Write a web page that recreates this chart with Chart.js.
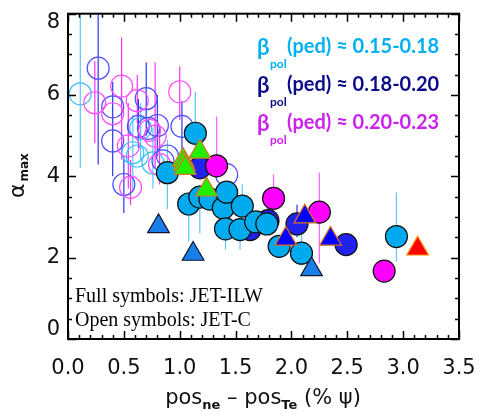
<!DOCTYPE html>
<html lang="en">

<head>
  <meta charset="UTF-8">
  <script src="https://cdn.jsdelivr.net/npm/chart.js@4.4.0/dist/chart.umd.min.js"></script>
  <title>alpha max vs pedestal shift</title>
  <style>
    body { margin: 0; background: #fff; }
  </style>
</head>

<body>
  <canvas id="myChart" width="480" height="417"></canvas>
  <script>
    // axis ticks
    const xTicks = [0, 0.5, 1, 1.5, 2, 2.5, 3, 3.5]
    const xTickLabels = ['0.0', '0.5', '1.0', '1.5', '2.0', '2.5', '3.0', '3.5']
    const yTicks = [0, 2, 4, 6, 8]
    const yTickLabels = ['0', '2', '4', '6', '8']
    const legendRanges = ['0.15-0.18', '0.18-0.20', '0.20-0.23']

    // JET-C (open circles), lo/hi = error bar ends (null = no bar)
    const openCyanX = [0.11, 0.58, 0.65, 0.76, 0.62]
    const openCyanY = [6.03, 4.58, 5.18, 4.33, 4.50]
    const openCyanLo = [4.21, 3.68, 4.40, 3.70, null]
    const openCyanHi = [8.30, 5.50, 5.80, 5.20, null]

    const openBlueX = [0.27, 0.40, 0.40, 0.70, 0.63, 0.72, 0.80, 0.50, 1.02, 0.89, 1.42, 0.85]
    const openBlueY = [6.66, 5.71, 4.87, 5.91, 5.23, 5.18, 5.25, 3.80, 5.23, 4.50, 4.04, 4.38]
    const openBlueLo = [4.29, 4.16, 4.00, 5.00, 4.70, null, 4.50, 3.10, 4.50, null, null, null]
    const openBlueHi = [8.30, 6.32, 5.50, 6.80, 5.90, null, 6.00, 4.50, 5.86, null, null, null]

    const openMagX = [0.24, 0.48, 0.40, 0.62, 0.54, 0.78, 0.56, 0.82, 1.00, 0.73]
    const openMagY = [5.81, 6.22, 5.54, 5.86, 4.75, 4.99, 3.73, 4.29, 6.08, 5.13]
    const openMagLo = [4.82, 4.41, null, 5.30, 3.70, 4.20, 3.30, 3.80, 5.38, null]
    const openMagHi = [6.83, 7.41, null, 6.50, 5.80, 6.80, 4.40, 5.20, 6.71, null]

    // JET-ILW (full circles)
    const fullCyanX = [1.14, 0.89, 1.08, 1.18, 1.27, 1.39, 1.42, 1.41, 1.56, 1.54, 1.68, 1.78, 1.89, 2.09, 2.94]
    const fullCyanY = [5.06, 4.09, 3.32, 3.49, 3.44, 3.22, 3.61, 2.71, 3.27, 2.69, 2.88, 2.83, 2.28, 2.11, 2.52]
    const fullCyanLo = [4.20, 3.20, 2.40, 2.60, null, 2.70, null, 2.20, 2.80, 2.20, null, null, null, 1.80, 1.90]
    const fullCyanHi = [6.08, 4.90, 3.60, 3.80, null, 3.60, null, 3.00, 3.80, 3.00, null, null, null, 2.60, 3.60]

    const fullBlueX = [1.18, 1.79, 1.63, 2.05, 2.49]
    const fullBlueY = [4.21, 2.91, 2.69, 2.83, 2.32]
    const fullBlueLo = [null, 2.60, null, 2.50, null]
    const fullBlueHi = [null, 3.30, null, 3.30, null]

    const fullMagX = [1.33, 1.84, 2.25, 2.83]
    const fullMagY = [4.26, 3.46, 3.12, 1.67]
    const fullMagLo = [3.90, 3.00, 1.86, null]
    const fullMagHi = [5.47, 4.05, 4.09, null]

    // triangles
    const triGreenX = [1.03, 1.04, 1.05, 1.18, 1.24]
    const triGreenY = [4.40, 4.30, 4.20, 4.60, 3.67]
    const triMidX = [0.81, 1.12, 2.18]
    const triMidY = [2.77, 2.09, 1.71]
    const triBlueX = [1.95, 2.12, 2.35]
    const triBlueY = [2.46, 3.01, 2.46]
    const triRedX = [3.13]
    const triRedY = [2.22]

    function pts(xs, ys) {
      return xs.map((x, i) => ({ x: x, y: ys[i] }))
    }

    // error bars as broken line segments
    function bars(xs, lo, hi) {
      const out = []
      xs.forEach((x, i) => {
        if (lo[i] === null) return
        out.push({ x: x, y: lo[i] }, { x: x, y: hi[i] }, { x: x, y: null })
      })
      return out
    }

    function barSet(data, color) {
      return {
        type: 'line', data: data, showLine: true, spanGaps: false,
        borderColor: color, borderWidth: 1.2, pointRadius: 0, order: 20
      }
    }

    function circleSet(data, fill, border, order) {
      return {
        data: data, pointStyle: 'circle', pointRadius: 11, pointHoverRadius: 11,
        backgroundColor: fill, borderColor: border, pointBorderWidth: 1.2, order: order
      }
    }

    function triSet(data, fill, border) {
      return {
        data: data, pointStyle: 'triangle', pointRadius: 12.5, pointHoverRadius: 12.5,
        backgroundColor: fill, borderColor: border, pointBorderWidth: 1.2, order: 1
      }
    }

    const frame = {
      id: 'frame',
      afterDraw: (chart) => {
        const ctx = chart.ctx
        const a = chart.chartArea
        const sx = chart.scales.x
        const sy = chart.scales.y
        ctx.save()
        ctx.strokeStyle = '#000'
        ctx.lineWidth = 1.5
        ctx.beginPath()
        // x ticks, minor every 0.1
        for (let i = 0; i <= 35; i++) {
          const px = Math.round(sx.getPixelForValue(i / 10)) + 0.5
          const len = i % 5 === 0 ? 8 : 4
          ctx.moveTo(px, a.bottom); ctx.lineTo(px, a.bottom - len)
          ctx.moveTo(px, a.top); ctx.lineTo(px, a.top + len)
        }
        // y ticks, minor every 0.5
        for (let i = 0; i <= 16; i++) {
          const py = Math.round(sy.getPixelForValue(i / 2)) + 0.5
          const len = i % 4 === 0 ? 8 : 4
          ctx.moveTo(a.left, py); ctx.lineTo(a.left + len, py)
          ctx.moveTo(a.right, py); ctx.lineTo(a.right - len, py)
        }
        ctx.stroke()
        ctx.lineWidth = 2
        ctx.strokeRect(a.left, a.top, a.right - a.left, a.bottom - a.top)

        // tick labels
        ctx.fillStyle = '#111'
        ctx.font = '21px "DejaVu Sans"'
        ctx.textAlign = 'center'
        ctx.textBaseline = 'middle'
        xTicks.forEach((v, i) => {
          ctx.fillText(xTickLabels[i], sx.getPixelForValue(v), a.bottom + 30)
        })
        ctx.textAlign = 'right'
        yTicks.forEach((v, i) => {
          let py = sy.getPixelForValue(v)
          py = Math.min(Math.max(py, a.top + 9), a.bottom - 9)
          ctx.fillText(yTickLabels[i], a.left - 8, py)
        })

        // x title: pos_ne - pos_Te (% psi)
        const big = '21px "DejaVu Sans"'
        const small = 'bold 13px "DejaVu Sans"'
        const parts = [['pos', big, 0], ['ne', small, 5], [' \u2013 ', big, 0], ['pos', big, 0], ['Te', small, 5], [' (% \u03c8)', big, 0]]
        let w = 0
        parts.forEach(p => { ctx.font = p[1]; w += ctx.measureText(p[0]).width })
        let cx = 263 - w / 2
        ctx.textAlign = 'left'
        ctx.textBaseline = 'alphabetic'
        parts.forEach(p => {
          ctx.font = p[1]
          ctx.fillText(p[0], cx, 404 + p[2])
          cx += ctx.measureText(p[0]).width
        })

        // y title: alpha_max
        ctx.save()
        ctx.translate(24, 198)
        ctx.rotate(-Math.PI / 2)
        ctx.font = '22px "DejaVu Sans"'
        ctx.fillText('\u03b1', 0, 0)
        const aw = ctx.measureText('\u03b1').width
        ctx.font = 'bold 12px "DejaVu Sans"'
        ctx.fillText('max', aw + 2, 4)
        ctx.restore()

        // legend for beta_pol ranges
        const colors = ['#00b0f0', '#0c0c8a', '#cc22ee']
        const rowsY = [47, 85, 123]
        legendRanges.forEach((r, i) => {
          ctx.fillStyle = colors[i]
          ctx.textBaseline = 'middle'
          ctx.font = 'bold 22px Lato'
          ctx.fillText('\u03b2', 257, rowsY[i] + 1)
          ctx.font = 'bold 12px Lato'
          ctx.fillText('pol', 270, rowsY[i] + 17)
          ctx.font = 'bold 20px Lato'
          ctx.fillText('(ped) \u2248 ' + r, 287, rowsY[i])
        })

        // note text
        ctx.fillStyle = '#000'
        ctx.font = '20px "Liberation Serif"'
        ctx.fillText('Full symbols: JET-ILW', 75, 297)
        ctx.fillText('Open symbols: JET-C', 75, 321)
        ctx.restore()
      }
    }

    const ctx = document.getElementById('myChart')
    const myChart = new Chart(ctx, {
      type: 'scatter',
      data: {
        datasets: [
          barSet(bars(openCyanX, openCyanLo, openCyanHi), '#55c8ff'),
          barSet(bars(openBlueX, openBlueLo, openBlueHi), '#3030ff'),
          barSet(bars(openMagX, openMagLo, openMagHi), '#ff30ff'),
          barSet(bars(fullCyanX, fullCyanLo, fullCyanHi), '#55c8ff'),
          barSet(bars(fullBlueX, fullBlueLo, fullBlueHi), '#3030ff'),
          barSet(bars(fullMagX, fullMagLo, fullMagHi), '#ff60ff'),
          circleSet(pts(openCyanX, openCyanY), 'rgba(0,0,0,0)', '#40c0ff', 12),
          circleSet(pts(openBlueX, openBlueY), 'rgba(0,0,0,0)', '#5050ff', 11),
          circleSet(pts(openMagX, openMagY), 'rgba(0,0,0,0)', '#ff50ff', 10),
          circleSet(pts(fullBlueX, fullBlueY), '#2222f0', '#111', 7),
          circleSet(pts(fullMagX, fullMagY), '#ff00ff', '#111', 6),
          circleSet(pts(fullCyanX, fullCyanY), '#00aaee', '#111', 5),
          triSet(pts(triGreenX, triGreenY), '#22ee00', '#d07a20'),
          triSet(pts(triMidX, triMidY), '#1a7ee8', '#101830'),
          triSet(pts(triBlueX, triBlueY), '#0000ff', '#e07020'),
          triSet(pts(triRedX, triRedY), '#ff0000', '#ff8a00')
        ]
      },
      plugins: [frame],
      options: {
        responsive: false,
        animation: false,
        layout: { padding: { left: 68, right: 21, top: 9, bottom: 78 } },
        scales: {
          x: { type: 'linear', min: 0, max: 3.5, display: false },
          y: { type: 'linear', min: 0, max: 8, display: false }
        },
        plugins: {
          legend: { display: false },
          tooltip: { enabled: false }
        }
      }
    })
  </script>
</body>

</html>
